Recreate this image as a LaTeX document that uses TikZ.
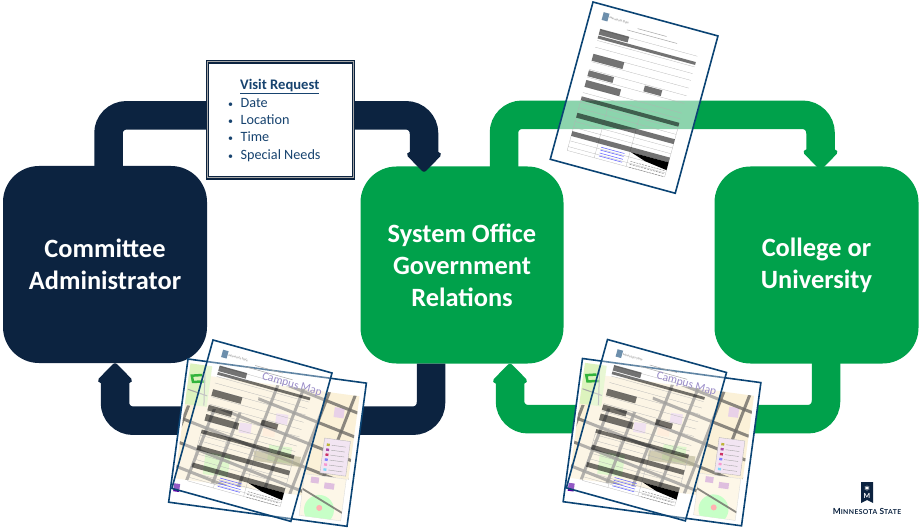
\documentclass[tikz,border=0pt]{standalone}
\usepackage{fontspec}
\setmainfont{Carlito}
\newfontfamily\logofont{Lato}
\usetikzlibrary{arrows.meta}
\definecolor{navy}{HTML}{0C2340}
\definecolor{grn}{HTML}{00A14B}
\definecolor{docline}{HTML}{0B4474}
\definecolor{inktext}{HTML}{17436F}
\definecolor{cream}{HTML}{FBF1D8}
\definecolor{roadgray}{HTML}{6F6D68}
\definecolor{mapviolet}{HTML}{9A8CC8}
\tikzset{
  actor/.style={rounded corners=36pt,minimum width=#1,minimum height=197pt,inner sep=0pt,
    text=white,align=center,font=\fontsize{26.4}{32}\selectfont\bfseries},
  flow/.style={line width=28.5pt,rounded corners=18pt,
    -{Triangle[length=21pt,width=40pt,round]}},
  docpage/.style={draw=docline,line width=1.6pt},
  barrow/.style={fill=black!55,blend mode=multiply},
  formrule/.style={draw=black!30,line width=.25pt},
  road/.style={draw=roadgray,line width=3pt,opacity=.8}
}
\newcommand{\formbits}{%
  \fill[docline!60] (13,7) rectangle (19,15);
  \node[font=\fontsize{3}{3}\selectfont,text=black!55,anchor=west,rotate=-15.3,inner sep=0pt] (logotext) at (20,11) {Minnesota State};
  \draw[black!35,line width=.5pt] (50,14) -- (80,14) (40,18) -- (92,18);
  \foreach \y in {25,36,43,50,58,66,74,84,90,100,106,120,126,140,146,150}
    \draw[formrule] (14,\y) -- (115,\y);
  \foreach \x in {14,42,75,115} \draw[formrule] (\x,94) -- (\x,150);
  \fill[barrow] (14,24) rectangle (44,30);
  \fill[barrow] (14,31) rectangle (115,34);
  \fill[barrow] (14,50) rectangle (46,57);
  \fill[barrow] (14,67) rectangle (40,73);
  \fill[barrow] (14,77) rectangle (50,84);
  \fill[barrow] (72,67) rectangle (90,73);
  \fill[barrow] (14,94) rectangle (115,98);
  \fill[barrow] (14,111) rectangle (115,116);
  \fill[barrow] (14,130) rectangle (115,135);
  \fill[black] (76,135) -- (115,135) -- (115,143) -- (92,140) -- cycle;
  \foreach \y in {138,141,144,147}
    \draw[blue!60,line width=.55pt] (46,\y) -- (70,\y);
  \foreach \y in {144,147,150}
    \draw[black!45,line width=.5pt,dash pattern=on 2pt off 1pt] (78,\y) -- (113,\y);
}
\newcommand{\mapback}{%
  \fill[white] (0,0) rectangle (180,144.5);
  \fill[cream] (3,14) rectangle (175,98) (3,46) rectangle (131,120);
  \begin{scope}
    \clip (3,46) rectangle (131,120) (75,14) rectangle (175,98);
    \fill[violet!18] (60,56) rectangle (72,66) (95,42) rectangle (107,52) (152,28) rectangle (162,38);
    \fill[green!18!cream] (30,90) rectangle (55,112) (92,74) rectangle (115,90);
    \fill[orange!20] (84,56) rectangle (96,66);
    \foreach \i in {-12,14,40,66,92,118,144,170}
      \draw[road] (\i,124) -- ({\i+28},8);
    \foreach \j in {-14,10,34,58,82,106}
      \draw[road] (-5,\j) -- (180,{\j+46});
    \fill[yellow!45!black,opacity=.55] (78,82) rectangle (125,92);
  \end{scope}
  \fill[green!12!cream] (3,4) rectangle (25,45);
  \draw[grn!80!yellow,line width=2.5pt] (16,14) -- (6,16) -- (8,22) -- (20,20);
  \draw[black!35,line width=1pt] (18,5) -- (22,44) (4,30) -- (24,34);
  \fill[violet!10,draw=black!30,line width=.3pt] (146,60) rectangle (172,95);
  \foreach \y/\c in {65/yellow!70!black,70/violet!70,75/purple!80,80/blue!50,85/magenta!40,90/cyan!50}{
    \fill[\c] (149,\y) rectangle (152,{\y+2.4});
    \draw[black!35,line width=.4pt] (154,{\y+1.2}) -- (168,{\y+1.2});
  }
  \fill[cream!60!white,draw=black!15,line width=.3pt] (131,98) rectangle (173,140);
  \begin{scope}
    \clip (131,98) rectangle (173,140);
    \fill[green!22!white] (150,132) circle (15);
    \fill[red!30] (150,130) circle (3);
    \draw[road,line width=1.8pt] (128,112) -- (178,134);
    \fill[violet!25] (138,100) rectangle (146,106) (152,104) rectangle (162,110);
  \end{scope}
  \fill[violet!70!blue] (3,125) rectangle (9,133);
  \draw[docpage] (0,0) rectangle (180,144.5);
}
\newcommand{\mapfront}{%
  \fill[white,opacity=.35] (0,0) rectangle (123.5,154);
  \begin{scope}[scale=.95]\formbits\end{scope}
  \node[anchor=center,rotate=-15.5,inner sep=0pt,text=mapviolet,font=\fontsize{11.5}{11.5}\selectfont] (campusmap) at (88,22) {Campus Map};
  \draw[docpage] (0,0) rectangle (123.5,154);
}
\newcommand{\mapgroup}[2]{%
  \begin{scope}[shift={(#1,#2)}]
    \begin{scope}[shift={(188,359)},rotate=-7.7]\mapback\end{scope}
    \begin{scope}[shift={(213,340)},rotate=-15.5]\mapfront\end{scope}
  \end{scope}
}
\begin{document}
\begin{tikzpicture}[x=1pt,y=-1pt]
\useasboundingbox (0,0) rectangle (920,529);
% boxes
\node[actor=204pt,fill=navy] (adm) at (105,264.5) {Committee\\Administrator};
\node[actor=203pt,fill=grn] (sys) at (462,265) {System Office\\Government\\Relations};
\node[actor=204pt,fill=grn] (col) at (816.5,265) {College or\\University};
% connectors
\draw[flow,navy] ([xshift=3.5pt,yshift=-1pt]adm.north) -- ++(0,-51.5) -| ([xshift=-38pt,yshift=-5.5pt]sys.north);
\draw[flow,navy] ([xshift=-31pt]sys.south) -- ++(0,57) -| ([xshift=10pt]adm.south);
\draw[flow,grn] ([xshift=42pt,yshift=-1pt]sys.north) -- ++(0,-52.5) -| ([xshift=4pt,yshift=-3pt]col.north);
\draw[flow,grn] ([xshift=9.5pt,yshift=1pt]col.south) -- ++(0,56.5) -| ([xshift=48pt]sys.south);
% visit request
\node[draw=navy,double=black!35,double distance=1pt,line width=1.2pt,fill=white,minimum width=146pt,minimum height=116pt,inner sep=0pt] (req) at (280.5,120) {};
\node[anchor=west,inner sep=0pt,text=inktext,align=left,font=\fontsize{14.2}{17.35}\selectfont] (reqtext) at (228,120.5)
  {\hspace{12pt}\underline{\fontsize{14.6}{17.35}\selectfont\textbf{Visit Request}}\\ \scalebox{.7}{\textbullet}\hspace{7.5pt}Date\\ \scalebox{.7}{\textbullet}\hspace{7.5pt}Location\\ \scalebox{.7}{\textbullet}\hspace{7.5pt}Time\\ \scalebox{.7}{\textbullet}\hspace{7.5pt}Special Needs};
% form document
\begin{scope}[shift={(593,2)},rotate=-15.2]
  \fill[white,opacity=.55] (0,0) rectangle (129.5,163);
  \formbits
  \draw[docpage] (0,0) rectangle (129.5,163);
\end{scope}
% map documents
\mapgroup{0}{0}
\mapgroup{394.5}{-.5}
% logo
\fill[navy] (861,482) -- (873,482) -- (873,503) -- (867,500) -- (861,503) -- cycle;
\draw[white,line width=.8pt] (867,485.5) -- (867,490.5) (864.8,486.7) -- (869.2,489.3) (869.2,486.7) -- (864.8,489.3);
\node[text=white,inner sep=0pt,font=\fontsize{7}{7}\selectfont\logofont\bfseries] (logom) at (867,496) {M};
\node[text=navy,inner sep=0pt,font=\logofont\bfseries] (logoname) at (867,511) {\addfontfeature{LetterSpace=6}\fontsize{8.4}{9}\selectfont M\fontsize{6.8}{9}\selectfont INNESOTA \fontsize{8.4}{9}\selectfont S\fontsize{6.8}{9}\selectfont TATE};
\end{tikzpicture}
\end{document}
